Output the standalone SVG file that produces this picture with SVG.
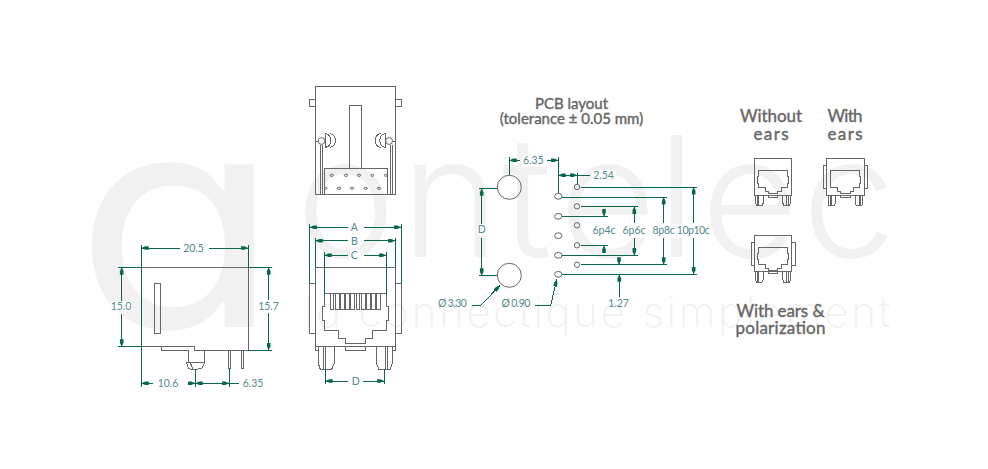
<svg xmlns="http://www.w3.org/2000/svg" width="988" height="469" viewBox="0 0 988 469">
<style>
.d{fill:none;stroke:#666;stroke-width:1;shape-rendering:crispEdges}
.m{fill:none;stroke:#666;stroke-width:1;shape-rendering:crispEdges}
.o{fill:none;stroke:#666;stroke-width:1;shape-rendering:auto}
.g{fill:none;stroke:#0b6650;stroke-width:1;shape-rendering:crispEdges}
.a{marker-end:url(#ar)}
.b{fill:#fff}
.l{font-family:Lato,"Liberation Sans",sans-serif;font-size:10.5px;fill:#55898c;text-anchor:middle}
.n{letter-spacing:-.6px}
.t{font-family:Lato,"Liberation Sans",sans-serif;fill:#666;stroke:#666;stroke-width:.4px;text-anchor:middle}
.w{font-family:Inter,Lato,sans-serif;fill:#f1f1f1;font-feature-settings:'cv11'}
</style>
<defs>
<marker id="ar" markerUnits="userSpaceOnUse" markerWidth="8" markerHeight="6" refX="7.5" refY="2.5" orient="auto"><path d="M7.5 2.5L3.5 .7H0V4.3H3.5Z" fill="#0b6650"/></marker>
<g id="mini" class="m">
<rect width="37.4" height="36.7"/>
<path d="M4.2 12.3H33.2V18.4H34.1V24.8H33.2V29.6H26.8V33H23.5V35.5H14.2V33H10.9V29.6H4.2V24.8H3.3V18.4H4.2Z"/>
<path d="M14.2 36.7V38.7H23.5V36.7M1.4 36.7V44.8L2.3 47.6H7.6L8.9 44.8V36.7M3.6 36.7V47.6M4.7 36.7V47.6M36 36.7V44.8L35.1 47.6H29.8L28.5 44.8V36.7M33.8 36.7V47.6M32.7 36.7V47.6"/>
</g>
</defs>
<rect width="988" height="469" fill="#fff"/>
<g id="watermark">
<text class="w" font-size="298" font-weight="400" transform="translate(75 327) scale(1.12 1)">a</text>
<text class="w" font-size="168" font-weight="300" x="296 401 502 559 657 701 802" y="257">ontelec</text>
<text class="w" font-size="42" font-weight="200" x="304" y="327" textLength="586">la connectique simplement</text>
</g>
<g id="side-view" class="d">
<path d="M141.3 267.3H248.3V350.3H194.3V346.7H141.3Z"/>
<rect x="154.3" y="283.3" width="6.4" height="50"/>
<path d="M161.3 346.7V350.3H188.3M188.3 350.3V362.3M204.7 350.3V362.3M186.3 362.3H204.7L202 368.3L192 370L188.5 368.3ZM190 362.3L193 369M228.3 350.3V368.3H230.7V350.3M241 350.3V368.3H243.3V350.3"/>
</g>
<g id="top-view" class="d">
<rect x="315.3" y="86.3" width="80" height="108.4"/>
<path d="M315.3 99.3H309.3V106.3H315.3M395.3 99.3H401.7V106.3H395.3"/>
<path d="M349.3 168.3V105.3H361.7V168.3"/>
<rect x="324.3" y="168.3" width="63.4" height="26.4"/>
<path d="M320 145V194.7M322 145V194.7M390 145V194.7M392 145V194.7"/>
<path d="M325.3 133.3V147.7M330 133.5A7.2 7.2 0 0 1 330 147.5M325.3 133.5A7.2 7.2 0 0 1 325.3 147.5M315.3 141H318"/>
<circle class="o" cx="321.5" cy="141" r="3.4"/>
<path d="M385.3 133.3V147.7M380.6 133.5A7.2 7.2 0 0 0 380.6 147.5M385.3 133.5A7.2 7.2 0 0 0 385.3 147.5M395.3 141H392.6"/>
<circle class="o" cx="389.1" cy="141" r="3.4"/>
<g class="o" stroke-width=".9">
<ellipse cx="331.7" cy="175.3" rx="1.7" ry="1.1"/><ellipse cx="346" cy="175.3" rx="1.7" ry="1.1"/><ellipse cx="359" cy="175.3" rx="1.7" ry="1.1"/><ellipse cx="372.3" cy="175.3" rx="1.3" ry="1.1"/><ellipse cx="385.7" cy="175.3" rx="1.3" ry="1.1"/>
<ellipse cx="325.7" cy="188.3" rx="1.3" ry="1.1"/><ellipse cx="339" cy="188.3" rx="1.7" ry="1.1"/><ellipse cx="352" cy="188.3" rx="1.7" ry="1.1"/><ellipse cx="365.7" cy="188.3" rx="1.7" ry="1.1"/><ellipse cx="379" cy="188.3" rx="1.7" ry="1.1"/>
</g>
</g>
<g id="front-view" class="d">
<rect x="315.3" y="267.3" width="80" height="78.7"/>
<path d="M315.3 283.3H309.3V333.3H315.3M395.3 283.3H401.3V333.3H395.3"/>
<path d="M324.3 293.7H386.3V306.7H388.3V320.3H386.3V330.7H372.7V338H365.7V343.3H345.7V338H338.7V330.7H324.3V320.3H322.3V306.7H324.3Z"/>
<path d="M330 293.7V309.3H333.9V293.7M335.2 293.7V309.3H339.1V293.7M340.4 293.7V309.3H344.3V293.7M345.6 293.7V309.3H349.5V293.7M350.8 293.7V309.3H354.7V293.7M356 293.7V309.3H359.9V293.7M361.2 293.7V309.3H365.1V293.7M366.4 293.7V309.3H370.3V293.7M371.6 293.7V309.3H375.5V293.7M376.8 293.7V309.3H380.7V293.7"/>
<path d="M345.7 346V350.3H365.7V346M315.3 346V350.3H318.3M395.3 346V350.3H392.3"/>
<path d="M318.3 346V363.3L320.3 369.3H331.7L334.3 363.3V346M323 346V369.3M325.3 346V369.3"/>
<path d="M392.3 346V363.3L390.3 369.3H378.9L376.3 363.3V346M387.6 346V369.3M385.3 346V369.3"/>
</g>
<g id="pcb-layout" class="o">
<circle cx="509.3" cy="187.3" r="12"/>
<circle cx="509.3" cy="275.3" r="12"/>
<ellipse cx="558.3" cy="196.3" rx="3.7" ry="2.9"/><ellipse cx="558.3" cy="216.3" rx="3.7" ry="2.9"/><ellipse cx="558.3" cy="235.7" rx="3.7" ry="2.9"/><ellipse cx="558.3" cy="255.3" rx="3.7" ry="2.9"/><ellipse cx="558.3" cy="274.3" rx="3.7" ry="2.9"/>
<circle cx="577" cy="187" r="2.7"/><circle cx="577" cy="206.3" r="2.7"/><circle cx="577" cy="225.3" r="2.7"/><circle cx="577" cy="245.3" r="2.7"/><circle cx="577" cy="264.7" r="2.7"/>
</g>
<g id="jack-without-ears"><use href="#mini" x="754.3" y="158.3"/></g>
<g id="jack-with-ears" class="m"><use href="#mini" x="826.7" y="158.3"/><path d="M826.7 165.3H823.3V188.3H826.7M864.1 165.3H867.7V188.3H864.1"/></g>
<g id="jack-with-polarization" class="m"><use href="#mini" x="754.3" y="235"/><path d="M754.3 242.3H751.3V265H754.3M791.7 242.3H795V265H791.7"/></g>
<g id="connectors" class="g">
<path d="M141.3 245V386.7M248.3 245V267.3M118 267.3H141.3M118 346.7H141.3M248.3 267.3H271.7M248.3 350.3H271.7M195.3 370V386.7M229.3 368.3V386.7"/>
<path class="a" d="M180 248H141.3"/><path class="a" d="M209 248H248.3"/>
<path class="a" d="M121.7 301V267.3"/><path class="a" d="M121.7 314V346.7"/>
<path class="a" d="M268.7 300V267.3"/><path class="a" d="M268.7 313V350.3"/>
<path class="a" d="M153 383.3H141.3"/><path class="a" d="M188 383.3H195.3"/>
<path class="a" d="M212 383.3H195.3"/><path class="a" d="M212 383.3H229.3"/><path d="M229.3 383.3H239"/>
<path d="M309.7 224V283.3M401.3 224V283.3M315.3 237.7V267.3M395.3 237.7V267.3M324.3 252.3V293.7M386.3 252.3V293.7M325.3 369.3V383.7M384.3 369.3V383.7"/>
<path class="a" d="M348.3 227.3H309.7"/><path class="a" d="M364 227.3H401.3"/>
<path class="a" d="M348.3 240.7H315.3"/><path class="a" d="M364 240.7H395.3"/>
<path class="a" d="M348.3 255.3H324.3"/><path class="a" d="M364 255.3H386.3"/>
<path class="a" d="M347.7 381H325.3"/><path class="a" d="M363.3 381H384.3"/>
<path d="M479.3 188.3H497.3M479.3 275.7H497.3M509.3 157V175.3M558.3 157V193.4M577.3 173.3V184"/>
<path class="a" d="M481.7 225V188.3"/><path class="a" d="M481.7 238V275.7"/>
<path class="a" d="M520 160.3H509.3"/><path class="a" d="M546.7 160.3H558.3"/>
<path class="a" d="M567.5 175.3H558.3"/><path class="a" d="M567.5 175.3H577.3"/><path d="M577.3 175.3H590"/>
<path d="M581 187H696.7M562 197H667M581 206.5H637.7M562 216.5H607.7M581 245.5H607.7M562 255.5H637.7M581 264.7H667M562 274.3H696.7"/>
<path class="a" d="M693.7 223V187"/><path class="a" d="M693.7 237V274.3"/>
<path class="a" d="M663.7 223V197"/><path class="a" d="M663.7 237V264.7"/>
<path class="a" d="M634.3 223V206.5"/><path class="a" d="M634.3 237V255.5"/>
<path class="a" d="M604 209V216.5"/><path class="a" d="M604 253V245.5"/>
<path class="a" d="M619 258V264.7"/><path class="a" d="M619.3 297.3V274.3"/>
<path class="a" d="M471.7 305.3H481L500 285.3"/>
<path class="a" d="M535.3 305.3H550.7L556.7 279.3"/>
</g>
<g id="labels">
<path class="b" d="M182 242h24v12h-24zM111 301h21v10h-21zM258 301h21v10h-21zM155 377h26v12h-26zM241 377h25v12h-25zM350 222h10v11h-10zM350 236h10v11h-10zM350 250h10v11h-10zM351 376h10v11h-10zM477 224h10v12h-10zM522 155h24v12h-24zM592 170h24v12h-24zM591 224h26v14h-26zM621 224h26v14h-26zM651 224h25v14h-25zM677 224h33v14h-33z"/>
<text class="l" x="193.5" y="252">20.5</text>
<text class="l" x="121" y="310">15.0</text>
<text class="l" x="268.5" y="310">15.7</text>
<text class="l" x="168" y="387">10.6</text>
<text class="l" x="253" y="387">6.35</text>
<text class="l" x="354.3" y="231">A</text>
<text class="l" x="354.3" y="244.5">B</text>
<text class="l" x="354.3" y="258.5">C</text>
<text class="l" x="355.7" y="385">D</text>
<text class="l" x="481.7" y="233">D</text>
<text class="l" x="533.3" y="164">6.35</text>
<text class="l" x="603.5" y="178.5">2.54</text>
<text class="l n" x="452" y="307">Ø 3.30</text>
<text class="l n" x="515.5" y="307">Ø 0.90</text>
<text class="l" x="604" y="234">6p4c</text>
<text class="l" x="634" y="234">6p6c</text>
<text class="l" x="663.5" y="234" style="letter-spacing:-.3px">8p8c</text>
<text class="l" x="693" y="234" style="letter-spacing:-.5px">10p10c</text>
<text class="l" x="618.5" y="307">1.27</text>
<text class="t" x="571.5" y="109" font-size="15">PCB layout</text>
<text class="t" x="571.5" y="124" font-size="15">(tolerance ± 0.05 mm)</text>
<text class="t" x="771" y="122" font-size="17" textLength="62">Without</text>
<text class="t" x="771" y="140" font-size="17" textLength="35">ears</text>
<text class="t" x="845" y="122" font-size="17" textLength="35">With</text>
<text class="t" x="845" y="140" font-size="17" textLength="35">ears</text>
<text class="t" x="780.5" y="317" font-size="17" textLength="88">With ears &amp;</text>
<text class="t" x="780.5" y="333.5" font-size="17" textLength="90">polarization</text>
</g>
</svg>
